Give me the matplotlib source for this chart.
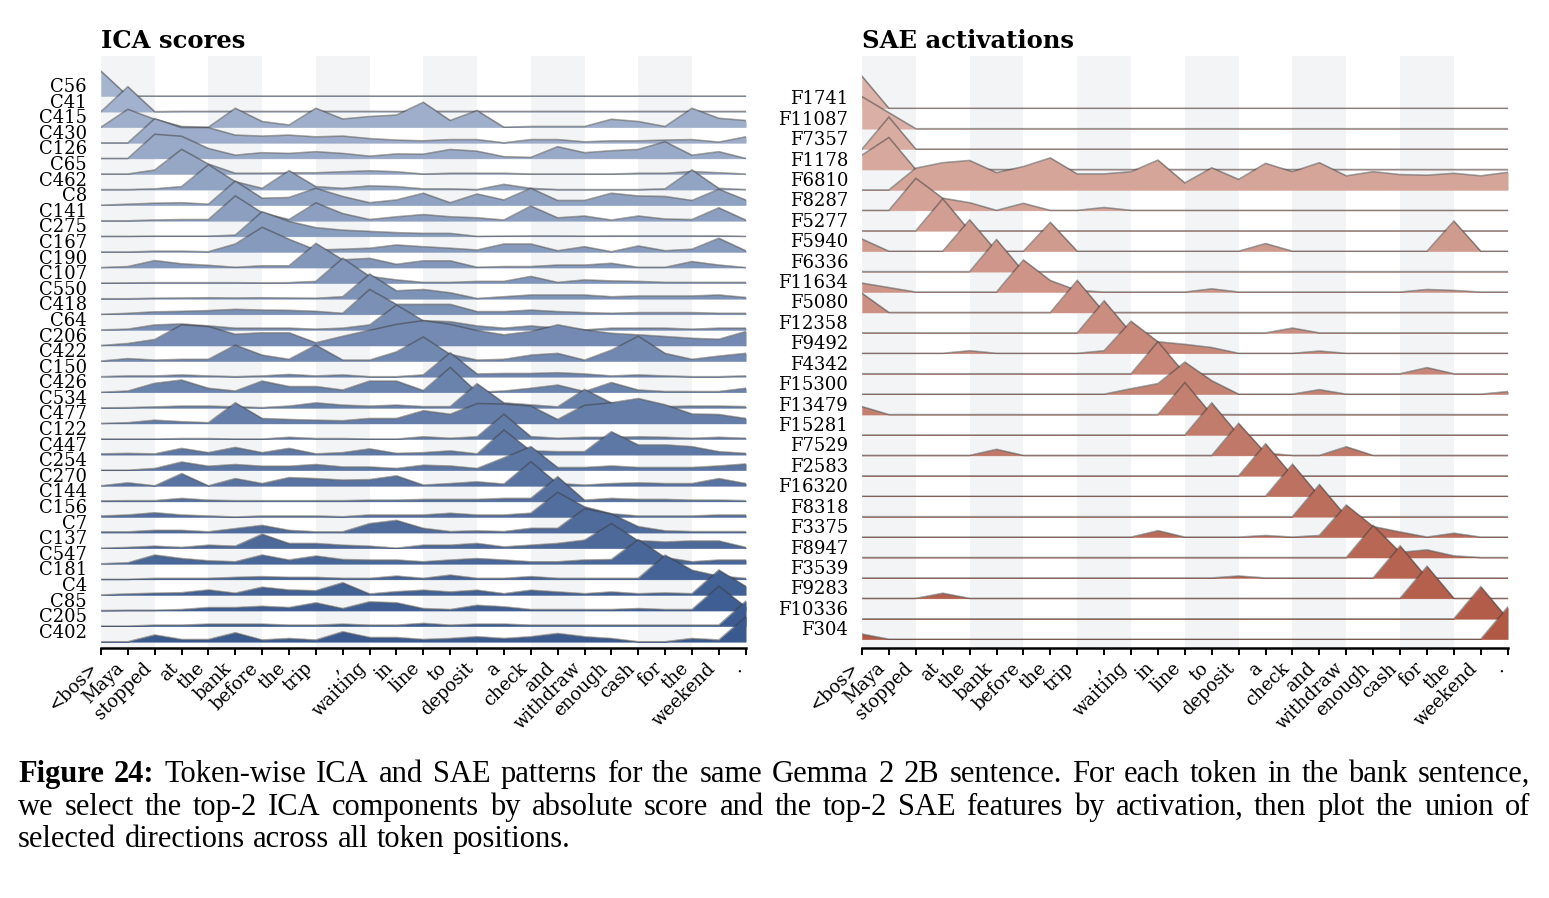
import numpy as np
import matplotlib
matplotlib.use("Agg")
import matplotlib.pyplot as plt
from matplotlib.colors import to_rgb

tokens = ['<bos>', 'Maya', 'stopped', 'at', 'the', 'bank', 'before', 'the', 'trip', ',',
          'waiting', 'in', 'line', 'to', 'deposit', 'a', 'check', 'and', 'withdraw',
          'enough', 'cash', 'for', 'the', 'weekend', '.']

ica_labels = ['C56', 'C41', 'C415', 'C430', 'C126', 'C65', 'C462', 'C8', 'C141', 'C275',
              'C167', 'C190', 'C107', 'C550', 'C418', 'C64', 'C206', 'C422', 'C150', 'C426',
              'C534', 'C477', 'C122', 'C447', 'C254', 'C270', 'C144', 'C156', 'C7', 'C137',
              'C547', 'C181', 'C4', 'C85', 'C205', 'C402']

ica_scores = [
    [1.0, 0, 0, 0, 0, 0, 0, 0, 0, 0, 0, 0, 0, 0, 0, 0, 0, 0, 0, 0, 0, 0, 0, 0, 0],
    [0, 1.0, 0, 0.01, 0.01, 0.01, 0.01, 0.01, 0.01, 0.01, 0.01, 0.01, 0.01, 0.01, 0.01, 0.01, 0.01, 0.01, 0.01, 0.01, 0.01, 0.01, 0.01, 0.01, 0.01],
    [0, 0.72, 0.32, 0.03, 0, 0.76, 0.23, 0.09, 0.76, 0.33, 0.43, 0.49, 1.0, 0.27, 0.67, 0, 0.03, 0.03, 0.03, 0.32, 0.23, 0.03, 0.76, 0.36, 0.27],
    [0, 0, 0.97, 0.61, 0.61, 0.31, 0.27, 0.31, 0.24, 0.27, 0.17, 0.11, 0.08, 0.13, 0.13, 0.0, 0.13, 0.13, 0.04, 0.08, 0.08, 0.11, 0.13, 0.03, 0.24],
    [0, 0, 0.97, 0.89, 0.4, 0.13, 0.23, 0.2, 0.27, 0.2, 0.09, 0.18, 0.17, 0.36, 0.29, 0.07, 0.04, 0.47, 0.23, 0.31, 0.36, 0.67, 0.13, 0.27, 0.0],
    [0, 0, 0.16, 0.99, 0.4, 0.03, 0.03, 0.05, 0.05, 0.09, 0.13, 0.09, 0.0, 0.03, 0.03, 0.03, 0.0, 0.0, 0.0, 0.0, 0.03, 0.03, 0.1, 0.05, 0.0],
    [0, 0, 0.03, 0.12, 1.0, 0.32, 0.05, 0.76, 0.12, 0.05, 0.15, 0.12, 0.03, 0.03, 0.0, 0.21, 0.05, 0.0, 0.0, 0.0, 0.0, 0.03, 0.79, 0.05, 0.0],
    [0, 0.04, 0.08, 0.1, 0.04, 0.97, 0.28, 0.31, 0.68, 0.35, 0.1, 0.21, 0.48, 0.1, 0.45, 0.21, 0.68, 0.19, 0.19, 0.48, 0.37, 0.35, 0.19, 0.64, 0.21],
    [0, 0, 0.03, 0.05, 0.05, 1.0, 0.32, 0.05, 0.72, 0.29, 0.05, 0.16, 0.25, 0.16, 0.12, 0.03, 0.59, 0.12, 0.19, 0.03, 0.19, 0.07, 0.05, 0.52, 0.03],
    [0, 0, 0.01, 0.01, 0.01, 0.05, 0.99, 0.6, 0.35, 0.25, 0.2, 0.15, 0.12, 0.12, 0.0, 0.01, 0.02, 0.02, 0.01, 0.02, 0.02, 0.02, 0.02, 0.02, 0.0],
    [0, 0, 0.03, 0.03, 0.01, 0.32, 0.99, 0.51, 0.08, 0.11, 0.15, 0.28, 0.21, 0.15, 0.08, 0.32, 0.32, 0.05, 0.21, 0.01, 0.24, 0.05, 0.11, 0.55, 0.05],
    [0, 0.04, 0.28, 0.15, 0.09, 0.01, 0.07, 0.07, 0.97, 0.31, 0.37, 0.13, 0.27, 0.27, 0.01, 0.04, 0.04, 0.1, 0.1, 0.17, 0.01, 0.01, 0.24, 0.1, 0.0],
    [0, 0.01, 0.02, 0.02, 0.02, 0.02, 0.01, 0.02, 0.07, 1.0, 0.27, 0.13, 0.03, 0.03, 0.07, 0.07, 0.27, 0.03, 0.13, 0.09, 0.07, 0.03, 0.03, 0.03, 0.03],
    [0, 0, 0.02, 0.03, 0.04, 0.03, 0.04, 0.03, 0.02, 0.08, 0.99, 0.32, 0.37, 0.24, 0.01, 0.08, 0.15, 0.15, 0.15, 0.08, 0.11, 0.11, 0.11, 0.15, 0.05],
    [0, 0.04, 0.1, 0.12, 0.15, 0.2, 0.17, 0.16, 0.12, 0.04, 1.0, 0.4, 0.4, 0.4, 0.11, 0.11, 0.17, 0.11, 0.07, 0.04, 0.07, 0.07, 0.07, 0.04, 0.04],
    [0, 0.03, 0.2, 0.24, 0.16, 0.07, 0.07, 0.07, 0.03, 0.07, 0.2, 1.0, 0.37, 0.33, 0.16, 0.07, 0.16, 0.07, 0.0, 0.07, 0.07, 0.07, 0.03, 0.07, 0.07],
    [0, 0.08, 0.24, 0.83, 0.76, 0.45, 0.51, 0.51, 0.11, 0.37, 0.61, 0.85, 1.0, 0.85, 0.6, 0.43, 0.56, 0.83, 0.63, 0.49, 0.43, 0.36, 0.29, 0.25, 0.56],
    [0, 0.1, 0.04, 0.07, 0.07, 0.64, 0.24, 0.07, 0.64, 0.04, 0.04, 0.37, 0.97, 0.27, 0.04, 0.07, 0.24, 0.31, 0.04, 0.44, 1.0, 0.31, 0.07, 0.2, 0.31],
    [0, 0.03, 0.03, 0.07, 0.03, 0, 0.03, 0.09, 0.03, 0.07, 0, 0, 0.07, 0.96, 0.11, 0.13, 0.13, 0.16, 0.11, 0.03, 0.07, 0.03, 0, 0, 0.03],
    [0, 0.05, 0.36, 0.49, 0.16, 0.05, 0.45, 0.23, 0.23, 0.09, 0.45, 0.45, 0.07, 1.0, 0.0, 0.05, 0.16, 0.29, 0.03, 0.39, 0.09, 0.03, 0.03, 0.03, 0.16],
    [0, 0.01, 0.04, 0.07, 0.07, 0.04, 0.01, 0.07, 0.2, 0.11, 0.07, 0.11, 0.05, 0.05, 0.97, 0.2, 0.12, 0.04, 0.74, 0.2, 0.07, 0.05, 0.07, 0.07, 0.05],
    [0, 0.03, 0.13, 0.07, 0.03, 0.83, 0.2, 0.16, 0.13, 0.11, 0.2, 0.2, 0.51, 0.37, 0.8, 0.78, 0.7, 0.16, 0.73, 0.83, 1.0, 0.75, 0.38, 0.36, 0.2],
    [0, 0, 0, 0.02, 0.02, 0, 0, 0.07, 0.02, 0.02, 0, 0, 0.09, 0.03, 0.09, 1.0, 0.1, 0.03, 0.07, 0.07, 0.09, 0.07, 0.03, 0.07, 0.03],
    [0.03, 0.05, 0.03, 0.25, 0.08, 0.29, 0.08, 0.25, 0.03, 0.08, 0.23, 0.05, 0.08, 0.15, 0.03, 0.99, 0.15, 0.12, 0.12, 0.92, 0.39, 0.39, 0.32, 0.12, 0.05],
    [0, 0, 0.07, 0.33, 0.16, 0.23, 0.16, 0.16, 0.23, 0.13, 0.13, 0.07, 0.2, 0.17, 0.07, 0.5, 0.95, 0.11, 0.11, 0.17, 0.11, 0.11, 0.11, 0.17, 0.25],
    [0, 0.12, 0, 0.49, 0, 0.29, 0.09, 0.33, 0.29, 0.23, 0.25, 0.4, 0.03, 0.09, 0.16, 0.07, 0.97, 0.09, 0.03, 0.09, 0.12, 0.09, 0.09, 0.29, 0.09],
    [0.02, 0.03, 0.03, 0.12, 0.05, 0.03, 0.03, 0.03, 0.03, 0.03, 0.05, 0.05, 0.08, 0.08, 0.08, 0.12, 0.12, 0.99, 0.05, 0.12, 0.08, 0.08, 0.05, 0.05, 0.03],
    [0.04, 0.08, 0.17, 0.08, 0.04, 0.0, 0.04, 0.04, 0.04, 0.01, 0.08, 0.08, 0.08, 0.15, 0.08, 0.08, 0.15, 0.99, 0.41, 0.13, 0.04, 0.04, 0.04, 0.08, 0.08],
    [0.03, 0.03, 0.09, 0.09, 0.03, 0.16, 0.29, 0.09, 0.03, 0.03, 0.36, 0.49, 0.17, 0.04, 0.07, 0.04, 0.17, 0.17, 0.96, 0.75, 0.24, 0.07, 0.04, 0.04, 0.04],
    [0, 0.03, 0.08, 0.03, 0.12, 0.08, 0.56, 0.19, 0.19, 0.12, 0.08, 0.0, 0.12, 0.12, 0.19, 0.05, 0.12, 0.19, 0.32, 0.99, 0.3, 0.25, 0.29, 0.29, 0.03],
    [0, 0.04, 0.35, 0.21, 0.12, 0.08, 0.35, 0.15, 0.31, 0.17, 0.15, 0.15, 0.08, 0.15, 0.21, 0.15, 0.08, 0.08, 0.15, 0.17, 0.97, 0.25, 0.08, 0.15, 0.15],
    [0, 0, 0.04, 0.04, 0.04, 0.08, 0.11, 0.08, 0.08, 0.04, 0.04, 0.13, 0.04, 0.17, 0.04, 0.04, 0.11, 0.04, 0.04, 0.04, 0.04, 0.97, 0.37, 0.13, 0.04],
    [0, 0.04, 0.07, 0.09, 0.2, 0.07, 0.31, 0.2, 0.17, 0.49, 0.04, 0.13, 0.19, 0.12, 0.19, 0.05, 0.19, 0.12, 0.05, 0.12, 0.05, 0.08, 0.05, 1.0, 0.35],
    [0, 0.01, 0.01, 0.04, 0.12, 0.12, 0.17, 0.12, 0.31, 0.08, 0.35, 0.31, 0.08, 0.04, 0.21, 0.15, 0.04, 0.04, 0.04, 0.04, 0.08, 0.04, 0.04, 0.98, 0.15],
    [0, 0, 0.04, 0.04, 0.08, 0.08, 0.08, 0.04, 0.04, 0.08, 0.04, 0.04, 0.11, 0.04, 0.08, 0.08, 0.04, 0.04, 0.04, 0.04, 0.04, 0.04, 0.04, 0.04, 1.0],
    [0, 0, 0.27, 0.09, 0.09, 0.36, 0.07, 0.13, 0.07, 0.4, 0.17, 0.17, 0.09, 0.13, 0.2, 0.13, 0.2, 0.33, 0.2, 0.13, 0.0, 0.0, 0.13, 0.07, 1.0],
]

sae_labels = ['F1741', 'F11087', 'F7357', 'F1178', 'F6810', 'F8287', 'F5277', 'F5940', 'F6336',
              'F11634', 'F5080', 'F12358', 'F9492', 'F4342', 'F15300', 'F13479', 'F15281',
              'F7529', 'F2583', 'F16320', 'F8318', 'F3375', 'F8947', 'F3539', 'F9283',
              'F10336', 'F304']

sae_activations = [
    [1.0, 0, 0, 0, 0, 0, 0, 0, 0, 0, 0, 0, 0, 0, 0, 0, 0, 0, 0, 0, 0, 0, 0, 0, 0],
    [1.0, 0.5, 0, 0, 0, 0, 0, 0, 0, 0, 0, 0, 0, 0, 0, 0, 0, 0, 0, 0, 0, 0, 0, 0, 0],
    [0, 1.0, 0, 0, 0, 0, 0, 0, 0, 0, 0, 0, 0, 0, 0, 0, 0, 0, 0, 0, 0, 0, 0, 0, 0],
    [0.45, 1.0, 0, 0, 0, 0, 0, 0, 0, 0, 0, 0, 0, 0, 0, 0, 0, 0, 0, 0, 0, 0, 0, 0, 0],
    [0, 0, 0.68, 0.85, 0.92, 0.54, 0.73, 1.0, 0.5, 0.5, 0.57, 0.93, 0.22, 0.69, 0.33, 0.83, 0.57, 0.85, 0.44, 0.57, 0.48, 0.46, 0.52, 0.44, 0.55],
    [0, 0, 1.0, 0.38, 0.24, 0, 0.22, 0, 0, 0.09, 0, 0, 0, 0, 0, 0, 0, 0, 0, 0, 0, 0, 0, 0, 0],
    [0, 0, 0, 1.0, 0, 0, 0, 0, 0, 0, 0, 0, 0, 0, 0, 0, 0, 0, 0, 0, 0, 0, 0, 0, 0],
    [0.38, 0, 0, 0, 0.98, 0, 0, 0.9, 0, 0, 0, 0, 0, 0, 0, 0.24, 0, 0, 0, 0, 0, 0, 0.94, 0, 0],
    [0, 0, 0, 0, 0, 1.0, 0, 0, 0, 0, 0, 0, 0, 0, 0, 0, 0, 0, 0, 0, 0, 0, 0, 0, 0],
    [0.28, 0.14, 0, 0, 0, 0, 1.0, 0.36, 0.05, 0, 0, 0, 0, 0.1, 0, 0, 0, 0, 0, 0, 0, 0.08, 0.05, 0, 0],
    [0.6, 0, 0, 0, 0, 0, 0, 0, 1.0, 0, 0, 0, 0, 0, 0, 0, 0, 0, 0, 0, 0, 0, 0, 0, 0],
    [0, 0, 0, 0, 0, 0, 0, 0, 0, 1.0, 0, 0, 0, 0, 0, 0, 0.15, 0, 0, 0, 0, 0, 0, 0, 0],
    [0, 0, 0, 0, 0.08, 0, 0, 0, 0, 0.08, 1.0, 0.36, 0.28, 0.18, 0, 0, 0, 0.07, 0, 0, 0, 0, 0, 0, 0],
    [0, 0, 0, 0, 0, 0, 0, 0, 0, 0, 0, 1.0, 0, 0, 0, 0, 0, 0, 0, 0, 0, 0.19, 0, 0, 0],
    [0, 0, 0, 0, 0, 0, 0, 0, 0, 0, 0.17, 0.33, 1.0, 0.42, 0, 0, 0, 0.14, 0, 0, 0, 0, 0, 0, 0.08],
    [0.25, 0, 0, 0, 0, 0, 0, 0, 0, 0, 0, 0, 1.0, 0, 0, 0, 0, 0, 0, 0, 0, 0, 0, 0, 0],
    [0, 0, 0, 0, 0, 0, 0, 0, 0, 0, 0, 0, 0, 1.0, 0, 0, 0, 0, 0, 0, 0, 0, 0, 0, 0],
    [0, 0, 0, 0, 0, 0.19, 0, 0, 0, 0, 0, 0, 0, 0, 1.0, 0.07, 0, 0, 0.27, 0, 0, 0, 0, 0, 0],
    [0, 0, 0, 0, 0, 0, 0, 0, 0, 0, 0, 0, 0, 0, 0, 1.0, 0, 0, 0, 0, 0, 0, 0, 0, 0],
    [0, 0, 0, 0, 0, 0, 0, 0, 0, 0, 0, 0, 0, 0, 0, 0, 1.0, 0, 0, 0, 0, 0, 0, 0, 0],
    [0, 0, 0, 0, 0, 0, 0, 0, 0, 0, 0, 0, 0, 0, 0, 0, 0, 1.0, 0, 0, 0, 0, 0, 0, 0],
    [0, 0, 0, 0, 0, 0, 0, 0, 0, 0, 0, 0.2, 0, 0, 0, 0.05, 0, 0.05, 1.0, 0.33, 0.16, 0, 0.12, 0, 0],
    [0, 0, 0, 0, 0, 0, 0, 0, 0, 0, 0, 0, 0, 0, 0, 0, 0, 0, 0, 1.0, 0.16, 0.24, 0.05, 0, 0],
    [0, 0, 0, 0, 0, 0, 0, 0, 0, 0, 0, 0, 0, 0, 0.06, 0, 0, 0, 0, 0, 1.0, 0, 0, 0, 0],
    [0, 0, 0, 0.16, 0, 0, 0, 0, 0, 0, 0, 0, 0, 0, 0, 0, 0, 0, 0, 0, 0, 1.0, 0, 0, 0],
    [0, 0, 0, 0, 0, 0, 0, 0, 0, 0, 0, 0, 0, 0, 0, 0, 0, 0, 0, 0, 0, 0, 0, 1.0, 0],
    [0.16, 0, 0, 0, 0, 0, 0, 0, 0, 0, 0, 0, 0, 0, 0, 0, 0, 0, 0, 0, 0, 0, 0, 0, 1.0],
]

caption_lines = [
    [("Figure 24:", "bold"),
     ("Token-wise ICA and SAE patterns for the same Gemma 2 2B sentence. For each token in the bank sentence,", "normal")],
    [("we select the top-2 ICA components by absolute score and the top-2 SAE features by activation, then plot the union of", "normal")],
    [("selected directions across all token positions.", "normal")],
]

W, H = 1549, 898
fig = plt.figure(figsize=(W / 100, H / 100), dpi=100)


def fx(px):
    return px / W


def fy(py):
    return 1 - py / H


SERIF = "DejaVu Serif"


def ridge(ax, data, labels, c_top, c_bot, scale, top_extra, bottom_extra, title):
    n = len(data)
    x = np.arange(len(tokens))
    ct = np.array(to_rgb(c_top))
    cb = np.array(to_rgb(c_bot))
    for k in range(0, len(tokens), 4):
        ax.axvspan(k, k + 2, color="#f3f4f6", zorder=0, lw=0)
    for r, row in enumerate(data):
        base = n - 1 - r
        t = r / (n - 1)
        col = ct * (1 - t) + cb * t
        y = base + scale * np.asarray(row, dtype=float)
        ax.fill_between(x, base, y, color=col, lw=0.3, edgecolor=col, zorder=2 + 2 * r)
        ax.plot(x, y, color="#3c3c3c", alpha=0.5, lw=1.15, zorder=3 + 2 * r,
                solid_joinstyle="miter")
    ax.set_xlim(0, len(tokens) - 1)
    ax.set_ylim(-bottom_extra, n - 1 + top_extra)
    ax.set_yticks([n - 1 - r for r in range(n)])
    ax.set_yticklabels(labels, fontsize=13, family=SERIF, va="bottom")
    ax.tick_params(axis="y", length=0, pad=10)
    ax.set_xticks(x)
    ax.set_xticklabels(tokens, rotation=45, ha="right", va="top",
                       fontsize=13, family=SERIF)
    ax.tick_params(axis="x", length=5, width=1.4, pad=3, color="black")
    for s in ("left", "right", "top"):
        ax.spines[s].set_visible(False)
    ax.spines["bottom"].set_linewidth(1.8)
    ax.spines["bottom"].set_zorder(200)
    pos = ax.get_position()
    fig.text(pos.x0, fy(48.3), title, fontsize=17.5, fontweight="bold", family=SERIF,
             ha="left", va="baseline")


ax1 = fig.add_axes([fx(101), fy(648), fx(745.7) - fx(101), fy(56) - fy(648)])
ax2 = fig.add_axes([fx(862), fy(648), fx(1507.7) - fx(862), fy(56) - fy(648)])

ridge(ax1, ica_scores, ica_labels, "#a5b4cf", "#39598f", 1.6, 2.57, 0.4, "ICA scores")
ridge(ax2, sae_activations, sae_labels, "#dcb3aa", "#b15945", 1.57, 2.56, 0.43, "SAE activations")

# caption, justified like the source
renderer = fig.canvas.get_renderer()
CAP_FONT = "Liberation Serif"
CAP_SIZE = 22
left_px, right_px = 18, 1530
baselines = [782, 815, 847]


def measure(s, weight):
    t = fig.text(0, 0, s, fontsize=CAP_SIZE, family=CAP_FONT, fontweight=weight)
    w = t.get_window_extent(renderer).width
    t.remove()
    return w


space_w = measure("a a", "normal") - measure("aa", "normal")
for li, line in enumerate(caption_lines):
    words = []
    for seg, weight in line:
        for w in seg.split(" "):
            words.append((w, weight))
    widths = [measure(w, wt) for w, wt in words]
    last = li == len(caption_lines) - 1
    if last:
        gap = space_w * 1.1
    else:
        gap = (right_px - left_px - sum(widths)) / (len(words) - 1)
    xpos = left_px
    for (w, wt), ww in zip(words, widths):
        fig.text(fx(xpos), fy(baselines[li]), w, fontsize=CAP_SIZE, family=CAP_FONT,
                 fontweight=wt, ha="left", va="baseline")
        xpos += ww + gap

fig.savefig("out.png", dpi=100)
